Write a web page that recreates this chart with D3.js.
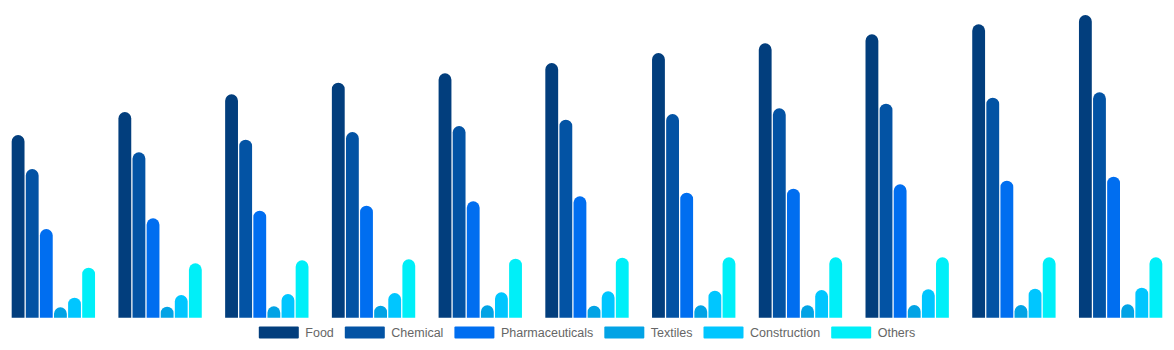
<!DOCTYPE html>
<html><head><meta charset="utf-8">
<script src="https://cdn.jsdelivr.net/npm/d3@7/dist/d3.min.js"></script>
<style>html,body{margin:0;padding:0;background:#fff;}svg{display:block;}</style>
</head><body>
<svg id="chart" width="1174" height="350"></svg>
<script>
const categories = ["2014","2015","2016","2017","2018","2019","2020","2021","2022","2023","2024"];
const seriesNames = ["Food","Chemical","Pharmaceuticals","Textiles","Construction","Others"];
const colors = ["#023e7d","#0353a4","#006ef0","#02a3e5","#00c6ff","#00eff8"];
const food = [182.7,205.7,223.4,235,244.4,254.7,264.7,274.4,283.4,293.4,302.7];
const chemical = [148.7,165.4,178,185.7,191.7,198,203.7,209.4,214,220,225.4];
const pharmaceuticals = [88.7,99.4,107,112,116.4,121.4,125,129,133.4,137,141];
const textiles = [10.4,11,11.4,12,12.4,12,12.4,12.4,12.7,12.7,13.4];
const construction = [20,22.7,23.7,24.7,25.4,26.4,27,27.7,28.4,29,30];
const others = [50,54.4,57.4,58.4,59,60,60.4,60.4,60.4,60.4,60.4];
const seriesValues = [food,chemical,pharmaceuticals,textiles,construction,others];

const svg = d3.select("#chart");
const W = 1174, baseY = 317.7;
const x0 = d3.scaleBand().domain(categories).range([0, W]).padding(0);
const groupInset = x0.bandwidth() * 0.1095;
const x1 = d3.scaleBand().domain(seriesNames)
  .range([groupInset, x0.bandwidth() - groupInset]).paddingInner(0.09).paddingOuter(0);
const y = d3.scaleLinear().domain([0, 300]).range([baseY, baseY - 300]);

function barPath(x, yTop, w, h) {
  const r = Math.min(w / 2, h);
  return `M${x},${yTop + h}V${yTop + r}A${r},${r} 0 0 1 ${x + r},${yTop}` +
         `H${x + w - r}A${r},${r} 0 0 1 ${x + w},${yTop + r}V${yTop + h}Z`;
}

const data = [];
categories.forEach((c, i) => {
  seriesNames.forEach((s, j) => {
    data.push({cat: c, ser: s, v: seriesValues[j][i], color: colors[j]});
  });
});

svg.append("g").selectAll("path").data(data).join("path")
  .attr("d", d => {
    const x = x0(d.cat) + x1(d.ser);
    const yt = y(d.v);
    return barPath(x, yt, x1.bandwidth(), baseY - yt);
  })
  .attr("fill", d => d.color);

// legend
const lg = svg.append("g").attr("font-family", "'Liberation Sans', Arial, sans-serif")
  .attr("font-size", 12.5).attr("fill", "#666");
const swW = 40, swH = 12, txtGap = 6.5, itemGap = 11;
const items = lg.selectAll("g").data(seriesNames).join("g");
items.append("rect").attr("width", swW).attr("height", swH).attr("rx", 1)
  .attr("fill", (d, i) => colors[i]);
items.append("text").attr("x", swW + txtGap).attr("y", swH / 2).attr("dy", "0.35em").text(d => d);
let widths = [];
items.each(function() {
  widths.push(swW + txtGap + d3.select(this).select("text").node().getComputedTextLength());
});
const total = d3.sum(widths) + itemGap * (widths.length - 1);
let cx = (W - total) / 2;
items.attr("transform", (d, i) => {
  const t = `translate(${cx},326.5)`;
  cx += widths[i] + itemGap;
  return t;
});
</script>
</body></html>
